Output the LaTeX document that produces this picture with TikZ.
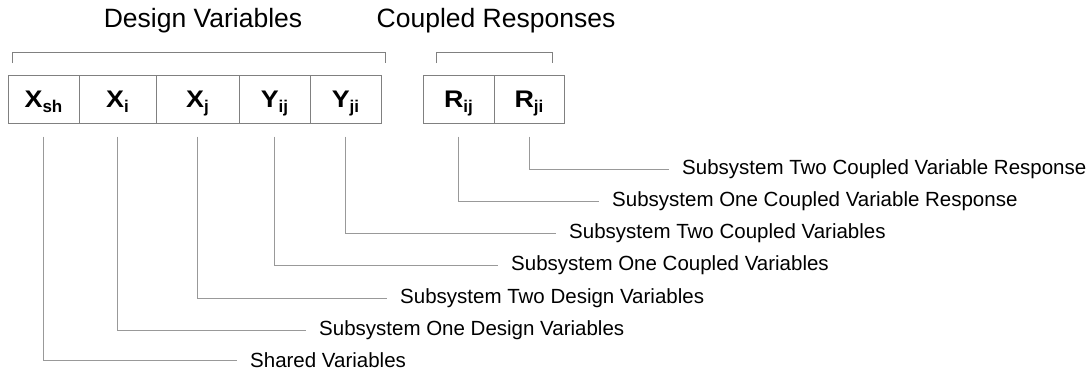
\documentclass[tikz,border=0pt]{standalone}
\usepackage{fontspec}
\setmainfont{Liberation Sans}
\begin{document}
\begin{tikzpicture}[x=1pt,y=-1pt,
  cell/.style={draw=black!50, line width=1pt, minimum height=48pt, inner sep=0pt,
    text height=16.6pt, text depth=0pt,
    font=\fontsize{24}{24}\selectfont\bfseries},
  title/.style={font=\fontsize{26.5}{30}\selectfont, inner sep=0pt, anchor=base},
  label/.style={font=\fontsize{20.5}{24}\selectfont, inner sep=0pt, anchor=mid west},
  lead/.style={draw=black!40, line width=1pt},
  brace/.style={draw=black!50, line width=1pt}]
\newcommand{\sbx}[2]{\scalebox{1.12}[1]{#1}\raisebox{-5.5pt}{\fontsize{17}{17}\selectfont\bfseries #2}}
\useasboundingbox (0,0) rectangle (1090,376);

% group titles
\node[title] (tdv) at (203,27) {Design Variables};
\node[title] (tcr) at (496,27) {Coupled Responses};

% group brackets
\draw[brace] (12,63) |- (385,52) -- (385,63);
\draw[brace] (436,63) |- (552,52) -- (552,63);

% variable cells
\node[cell, minimum width=71pt] (xsh) at (43.5,99) {\sbx{X}{sh}};
\node[cell, minimum width=77pt] (xi)  at (117.5,99) {\sbx{X}{i}};
\node[cell, minimum width=83pt] (xj)  at (197.5,99) {\sbx{X}{j}};
\node[cell, minimum width=71pt] (yij) at (274.5,99) {\sbx{Y}{ij}};
\node[cell, minimum width=71pt] (yji) at (345.5,99) {\sbx{Y}{ji}};
\node[cell, minimum width=71pt] (rij) at (458.5,99) {\sbx{R}{ij}};
\node[cell, minimum width=70pt] (rji) at (529,99) {\sbx{R}{ji}};

% descriptions
\node[label] (lsh)  at (250,365) {Shared Variables};
\node[label] (li)   at (319,333) {Subsystem One Design Variables};
\node[label] (lj)   at (400,301) {Subsystem Two Design Variables};
\node[label] (lyij) at (511,268) {Subsystem One Coupled Variables};
\node[label] (lyji) at (569,236) {Subsystem Two Coupled Variables};
\node[label] (lrij) at (612,204) {Subsystem One Coupled Variable Response};
\node[label] (lrji) at (682,172) {Subsystem Two Coupled Variable Response};

% leader lines
\foreach \c/\l in {xsh/lsh, xi/li, xj/lj, yij/lyij, yji/lyji, rij/lrij, rji/lrji}
  \draw[lead] ([yshift=-13pt]\c.south) |- ([xshift=-13pt]\l.west);
\end{tikzpicture}
\end{document}
